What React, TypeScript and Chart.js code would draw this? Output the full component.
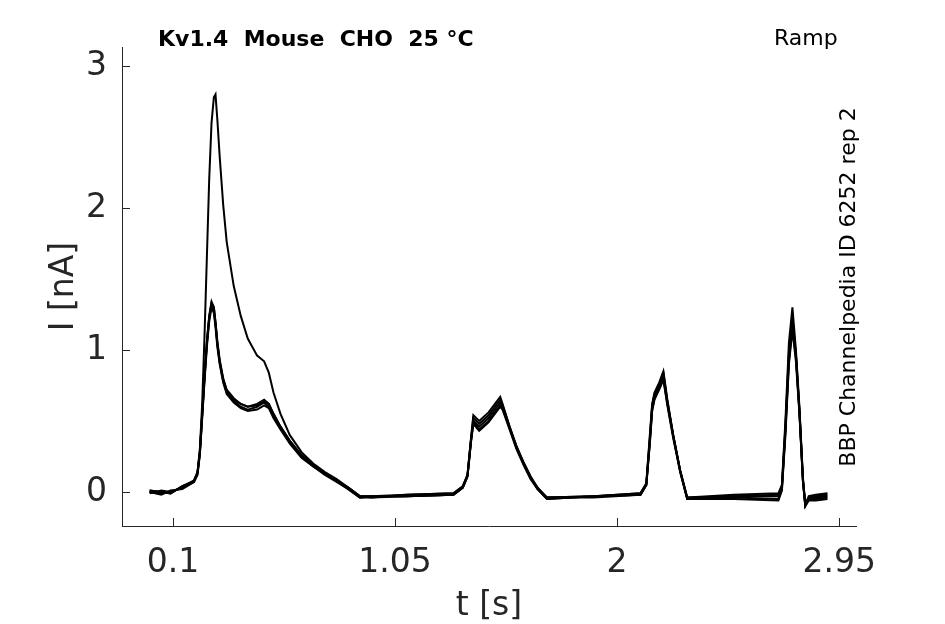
import { useEffect, useRef } from "react";
import { Chart, registerables } from "chart.js";

Chart.register(...registerables);

// time base shared by all sweeps (s)
const timeS = [
  0, 0.05, 0.09, 0.14, 0.19, 0.205, 0.215, 0.225, 0.235, 0.245, 0.255, 0.265,
  0.275, 0.282, 0.29, 0.3, 0.315, 0.33, 0.36, 0.39, 0.42, 0.46, 0.49, 0.51,
  0.53, 0.56, 0.6, 0.65, 0.7, 0.75, 0.8, 0.85, 0.9, 0.95, 1.1, 1.3, 1.34,
  1.36, 1.375, 1.385, 1.41, 1.45, 1.5, 1.51, 1.54, 1.57, 1.6, 1.63, 1.66,
  1.7, 1.9, 2.1, 2.125, 2.14, 2.15, 2.16, 2.18, 2.198, 2.215, 2.24, 2.27,
  2.3, 2.5, 2.69, 2.705, 2.72, 2.735, 2.75, 2.765, 2.78, 2.795, 2.805, 2.82,
  2.85, 2.9,
];

// current in nA, one array per sweep
const sweep1 = [
  0.0, -0.01, 0.0, 0.03, 0.08, 0.14, 0.3, 0.62, 1.1, 1.65, 2.2, 2.6,
  2.78, 2.8, 2.62, 2.36, 2.02, 1.76, 1.45, 1.24, 1.08, 0.96, 0.92, 0.84,
  0.7, 0.55, 0.4, 0.28, 0.2, 0.14, 0.09, 0.03, -0.03, -0.03, -0.02, -0.01, 0.04,
  0.12, 0.38, 0.54, 0.5, 0.56, 0.67, 0.62, 0.46, 0.32, 0.2, 0.1, 0.03,
  -0.04, -0.03, -0.01, 0.06, 0.4, 0.62, 0.7, 0.77, 0.85, 0.65, 0.4, 0.15,
  -0.04, -0.02, -0.01, 0.05, 0.5, 1.05, 1.3, 1.0, 0.6, 0.1, -0.09, -0.03,
  -0.02, -0.01,
];
const sweep2 = [
  0.01, 0.0, -0.01, 0.04, 0.07, 0.13, 0.28, 0.55, 0.82, 1.06, 1.24, 1.34,
  1.3, 1.2, 1.06, 0.93, 0.8, 0.72, 0.66, 0.62, 0.6, 0.61, 0.64, 0.62,
  0.55, 0.46, 0.36, 0.26, 0.19, 0.13, 0.08, 0.03, -0.03, -0.04, -0.03, -0.02, 0.03,
  0.11, 0.36, 0.5, 0.46, 0.52, 0.63, 0.6, 0.45, 0.31, 0.2, 0.1, 0.02,
  -0.05, -0.03, -0.02, 0.05, 0.35, 0.58, 0.66, 0.73, 0.8, 0.62, 0.39, 0.14,
  -0.05, -0.04, -0.05, 0.02, 0.42, 0.92, 1.16, 0.95, 0.56, 0.08, -0.1, -0.05,
  -0.05, -0.04,
];
const sweep3 = [
  -0.01, 0.01, 0.0, 0.03, 0.08, 0.14, 0.27, 0.53, 0.8, 1.04, 1.22, 1.32,
  1.28, 1.18, 1.04, 0.91, 0.78, 0.7, 0.64, 0.6, 0.58, 0.6, 0.63, 0.6,
  0.54, 0.45, 0.35, 0.25, 0.18, 0.13, 0.08, 0.02, -0.04, -0.03, -0.03, -0.02, 0.03,
  0.11, 0.35, 0.48, 0.43, 0.49, 0.6, 0.58, 0.44, 0.3, 0.19, 0.09, 0.02,
  -0.04, -0.04, -0.02, 0.05, 0.36, 0.6, 0.68, 0.75, 0.82, 0.63, 0.4, 0.15,
  -0.04, -0.03, -0.02, 0.04, 0.46, 0.98, 1.22, 0.97, 0.58, 0.09, -0.08, -0.04,
  -0.03, -0.02,
];
const sweep4 = [
  0.0, -0.02, 0.01, 0.02, 0.07, 0.12, 0.26, 0.52, 0.78, 1.02, 1.2, 1.3,
  1.26, 1.16, 1.02, 0.9, 0.77, 0.69, 0.63, 0.59, 0.57, 0.58, 0.61, 0.59,
  0.52, 0.44, 0.34, 0.24, 0.18, 0.12, 0.07, 0.02, -0.04, -0.04, -0.02, -0.01, 0.04,
  0.12, 0.37, 0.52, 0.48, 0.54, 0.65, 0.61, 0.46, 0.32, 0.21, 0.11, 0.03,
  -0.04, -0.03, -0.01, 0.06, 0.38, 0.61, 0.69, 0.76, 0.84, 0.64, 0.4, 0.15,
  -0.05, -0.05, -0.06, 0.01, 0.4, 0.9, 1.14, 0.92, 0.55, 0.07, -0.1, -0.06,
  -0.06, -0.05,
];
const sweep5 = [
  0.01, 0.0, -0.01, 0.04, 0.08, 0.13, 0.28, 0.55, 0.81, 1.05, 1.23, 1.33,
  1.3, 1.19, 1.05, 0.92, 0.79, 0.71, 0.65, 0.62, 0.6, 0.62, 0.65, 0.62,
  0.55, 0.46, 0.36, 0.26, 0.19, 0.13, 0.08, 0.03, -0.03, -0.03, -0.03, -0.02, 0.03,
  0.11, 0.36, 0.49, 0.44, 0.5, 0.61, 0.59, 0.45, 0.31, 0.2, 0.1, 0.02,
  -0.05, -0.03, -0.02, 0.05, 0.34, 0.57, 0.65, 0.72, 0.79, 0.61, 0.38, 0.14,
  -0.05, -0.03, -0.03, 0.03, 0.44, 0.95, 1.2, 0.96, 0.57, 0.08, -0.09, -0.04,
  -0.04, -0.03,
];

const sweeps = [sweep1, sweep2, sweep3, sweep4, sweep5];

const xTicks = [0.1, 1.05, 2, 2.95];
const yTicks = [0, 1, 2, 3];

const titleText = "Kv1.4  Mouse  CHO  25 °C";
const protocolText = "Ramp";
const sourceText = "BBP Channelpedia ID 6252 rep 2";

const axisColor = "#262626";
const fontFamily = "'DejaVu Sans', sans-serif";

const inwardTicks = {
  id: "inwardTicks",
  afterDraw(chart: any) {
    const { ctx, chartArea, scales } = chart;
    ctx.save();
    ctx.strokeStyle = axisColor;
    ctx.lineWidth = 1;
    for (const v of xTicks) {
      const px = Math.round(scales.x.getPixelForValue(v)) + 0.5;
      ctx.beginPath();
      ctx.moveTo(px, chartArea.bottom);
      ctx.lineTo(px, chartArea.bottom - 8);
      ctx.stroke();
    }
    for (const v of yTicks) {
      const py = Math.round(scales.y.getPixelForValue(v)) + 0.5;
      ctx.beginPath();
      ctx.moveTo(chartArea.left, py);
      ctx.lineTo(chartArea.left + 8, py);
      ctx.stroke();
    }
    ctx.restore();
  },
};

const labels = {
  id: "labels",
  afterDraw(chart: any) {
    const { ctx, chartArea } = chart;
    ctx.save();
    ctx.fillStyle = "#000";
    ctx.textBaseline = "middle";
    ctx.textAlign = "left";
    ctx.font = `bold 22px ${fontFamily}`;
    ctx.fillText(titleText, chartArea.left + 36, chartArea.top - 7);
    ctx.font = `22px ${fontFamily}`;
    ctx.fillText(protocolText, chartArea.right - 82, chartArea.top - 8);
    ctx.translate(chartArea.right - 7, 287);
    ctx.rotate(-Math.PI / 2);
    ctx.textAlign = "center";
    ctx.fillText(sourceText, 0, 0);
    ctx.restore();
  },
};

function App() {
  const canvasRef = useRef<HTMLCanvasElement>(null);

  useEffect(() => {
    document.body.style.margin = "0";
    const canvas = canvasRef.current;
    if (!canvas) return;
    const chart = new Chart(canvas, {
      type: "line",
      data: {
        datasets: sweeps.map((s, i) => ({
          label: `sweep ${i + 1}`,
          data: timeS.map((t, j) => ({ x: t, y: s[j] })),
          borderColor: "#000",
          borderWidth: 2,
          pointRadius: 0,
          tension: 0,
        })),
      },
      options: {
        animation: false,
        responsive: true,
        maintainAspectRatio: false,
        layout: { padding: { top: 47, right: 89, left: 0, bottom: 0 } },
        plugins: {
          legend: { display: false },
          tooltip: { enabled: false },
        },
        scales: {
          x: {
            type: "linear",
            min: -0.118,
            max: 3.022,
            afterFit: (scale: any) => {
              scale.height = 98;
            },
            afterBuildTicks: (scale: any) => {
              scale.ticks = xTicks.map((v) => ({ value: v }));
            },
            grid: { display: false, drawTicks: false },
            border: { display: true, color: axisColor, width: 1 },
            ticks: {
              autoSkip: false,
              maxRotation: 0,
              padding: 18,
              color: axisColor,
              font: { family: fontFamily, size: 33 },
              callback: (v: any) => String(v),
            },
            title: {
              display: true,
              text: "t [s]",
              color: axisColor,
              font: { family: fontFamily, size: 33, lineHeight: 1 },
              padding: { top: 0, bottom: 1 },
            },
          },
          y: {
            type: "linear",
            min: -0.24,
            max: 3.134,
            afterFit: (scale: any) => {
              scale.width = 122;
            },
            afterBuildTicks: (scale: any) => {
              scale.ticks = yTicks.map((v) => ({ value: v }));
            },
            grid: { display: false, drawTicks: false },
            border: { display: true, color: axisColor, width: 1 },
            ticks: {
              autoSkip: false,
              padding: 15,
              color: axisColor,
              font: { family: fontFamily, size: 33 },
              callback: (v: any) => String(v),
            },
            title: {
              display: true,
              text: "I [nA]",
              color: axisColor,
              font: { family: fontFamily, size: 33, lineHeight: 1 },
              padding: { top: 48, bottom: 0 },
            },
          },
        },
      },
      plugins: [inwardTicks, labels],
    });
    return () => chart.destroy();
  }, []);

  return (
    <div style={{ width: "945px", height: "624px", position: "relative" }}>
      <canvas ref={canvasRef}></canvas>
    </div>
  );
}

export default App;
